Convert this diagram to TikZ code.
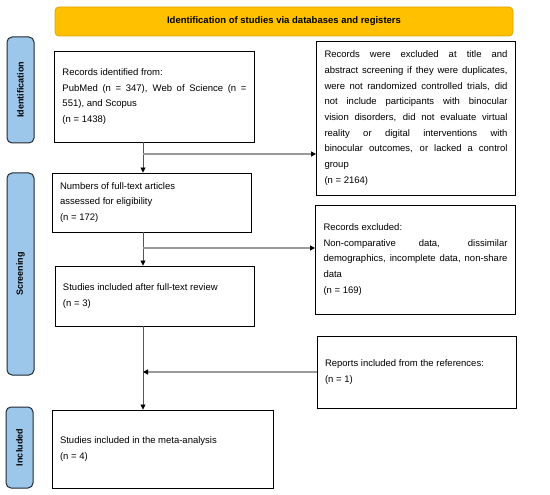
\documentclass[tikz,border=0pt]{standalone}
\usepackage{fontspec}
\setmainfont{Liberation Sans}
\usetikzlibrary{arrows.meta,calc}
\definecolor{bannerfill}{HTML}{FFC000}
\definecolor{bannerdraw}{HTML}{D9A300}
\definecolor{labelfill}{HTML}{9CC7EA}
\definecolor{labeldraw}{HTML}{1F2A33}
\definecolor{vline}{HTML}{555555}
\definecolor{hline}{HTML}{9A9A9A}
\begin{document}
\begin{tikzpicture}[x=1pt,y=-1pt,
  boxstyle/.style={draw=black, line width=0.9pt, inner xsep=8pt, inner ysep=0pt,
    align=justify, font=\fontsize{9.5}{15.7}\selectfont, anchor=center},
  sidelabel/.style={draw=labeldraw, line width=1pt, fill=labelfill, rounded corners=5pt,
    rotate=90, font=\bfseries\fontsize{9}{11}\selectfont, inner sep=0pt, anchor=center},
  vconn/.style={draw=vline, line width=0.8pt, -{Triangle[length=5pt,width=5pt,fill=black,color=black]}},
  hconn/.style={draw=hline, line width=1.4pt, -{Triangle[length=5pt,width=5pt,fill=black,color=black]}},
]
\useasboundingbox (0,0) rectangle (550,495);
\tolerance=9999 \hyphenpenalty=10000 \exhyphenpenalty=10000

\node[draw=bannerdraw, fill=bannerfill, line width=0.8pt, rounded corners=4pt,
  minimum width=458pt, minimum height=29pt, inner sep=0pt,
  font=\bfseries\fontsize{9.5}{11}\selectfont] (banner) at (284,21.5)
  {Identification of studies via databases and registers};

\node[sidelabel, minimum width=106pt, minimum height=27pt] (lid) at (20.5,90) {Identification};
\node[sidelabel, minimum width=202pt, minimum height=27pt] (lsc) at (20.5,274) {Screening};
\node[sidelabel, minimum width=81pt, minimum height=27pt] (lin) at (19.5,447.5) {Included};

\node[boxstyle, text width=184pt, minimum height=91pt] (b1) at (154.5,96.5)
  {Records identified from:\\ PubMed (n = 347), Web of Science (n =\linebreak 551), and Scopus\\ (n = 1438)};

\node[boxstyle, text width=183pt, minimum height=154pt] (b2) at (416,118)
  {Records were excluded at title and\linebreak abstract screening if they were duplicates,\linebreak were not randomized controlled trials, did\linebreak not include participants with binocular\linebreak vision disorders, did not evaluate virtual\linebreak reality or digital interventions with\linebreak binocular outcomes, or lacked a control\linebreak group\\ (n = 2164)};

\node[boxstyle, text width=183pt, minimum height=59pt] (b3) at (151.5,202.5)
  {Numbers of full-text articles\\ assessed for eligibility\\ (n = 172)};

\node[boxstyle, text width=184pt, minimum height=109pt] (b4) at (415.5,259.5)
  {Records excluded:\\ Non-comparative data, dissimilar\linebreak demographics, incomplete data, non-share\linebreak data\\ (n = 169)};

\node[boxstyle, text width=183pt, minimum height=60pt] (b5) at (154.5,296)
  {Studies included after full-text review\\ (n = 3)};

\node[boxstyle, text width=183pt, minimum height=72pt] (b6) at (416.5,372)
  {Reports included from the references:\\ (n = 1)};

\node[boxstyle, text width=205pt, minimum height=78pt] (b7) at (162.5,449)
  {Studies included in the meta-analysis\\ (n = 4)};

\coordinate (ax) at (143,0);
\coordinate (j1) at (143,154);
\coordinate (j2) at (143,248);
\coordinate (j3) at (143,372);

\draw[vconn] (b1.south -| ax) -- (b3.north -| ax);
\draw[hconn] (j1) -- (j1 -| b2.west);
\draw[vconn] (b3.south -| ax) -- (b5.north -| ax);
\draw[hconn] (j2) -- (j2 -| b4.west);
\draw[vconn] (b5.south -| ax) -- (b7.north -| ax);
\draw[hconn] (b6.west) -- (j3);
\end{tikzpicture}
\end{document}
